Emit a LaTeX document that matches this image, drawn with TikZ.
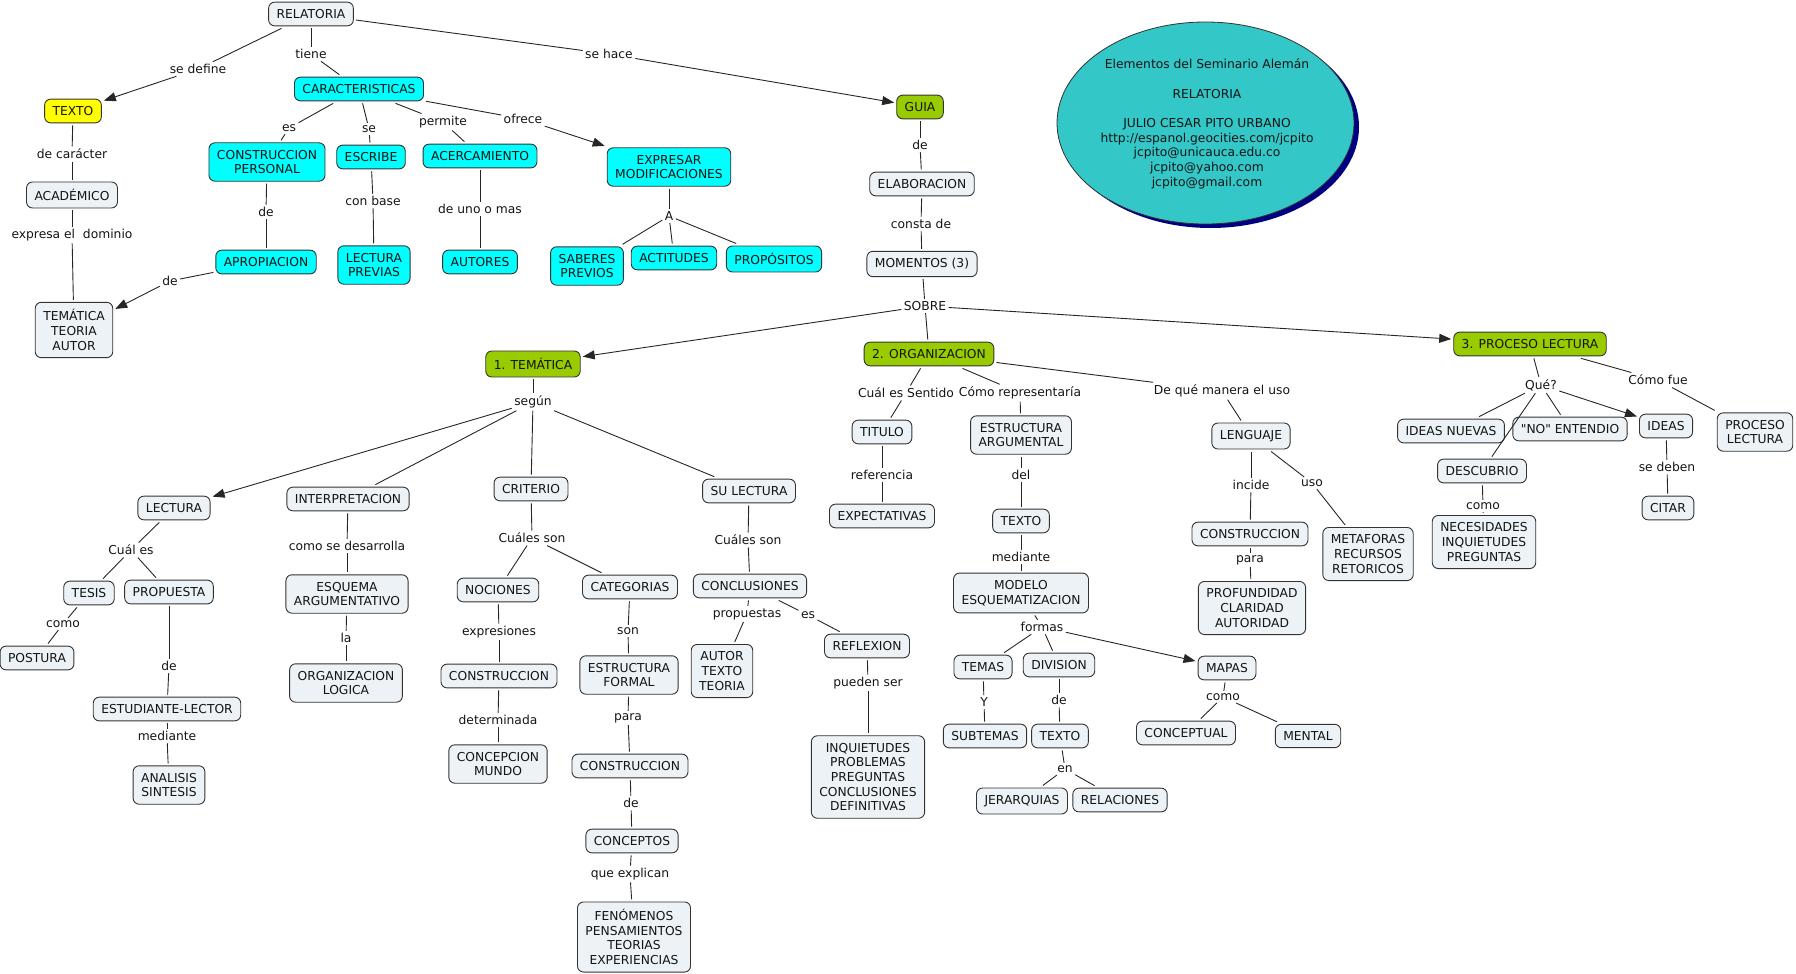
\documentclass[tikz,border=0pt]{standalone}
\usepackage{fontspec}
\setmainfont{DejaVu Sans}
\font\rawq="DejaVu Sans" at 12.3pt
\newcommand{\dq}{{\rawq "}}
\usetikzlibrary{arrows.meta,shapes.geometric}
\definecolor{boxgray}{RGB}{236,242,245}
\definecolor{mycyan}{RGB}{0,255,255}
\definecolor{myyellow}{RGB}{255,255,0}
\definecolor{mygreen}{RGB}{153,204,0}
\definecolor{elfill}{RGB}{51,199,199}
\definecolor{elshadow}{RGB}{0,0,128}
\definecolor{txt}{RGB}{20,20,20}
\begin{document}
\begin{tikzpicture}[x=1pt,y=-1pt,
  every node/.style={font=\fontsize{12.3}{14.7}\selectfont, text=txt},
  base/.style={draw=black!80, line width=0.9pt, rounded corners=6pt, align=center, inner xsep=8pt, inner ysep=7.2pt, outer sep=2.5pt},
  gbox/.style={base, fill=boxgray},
  cbox/.style={base, fill=mycyan},
  ybox/.style={base, fill=myyellow},
  grbox/.style={base, fill=mygreen},
  lab/.style={inner sep=1.5pt, outer sep=1pt},
  conn/.style={draw=black!85, line width=0.9pt},
  arr/.style={conn, -{Triangle[length=12pt,width=9pt]}}
]
\useasboundingbox (0,0) rectangle (1796,974);

% info ellipse
\fill[elshadow] (1210.5,127) ellipse [x radius=148.5pt, y radius=101pt];
\node[ellipse, draw=black!80, fill=elfill, line width=0.8pt, minimum width=297pt, minimum height=202pt, inner sep=0pt] (info) at (1205.5,123) {};
\node[align=center, inner sep=0pt] (infotext) at (1207,124) {Elementos del Seminario Alemán\\[14.6pt]RELATORIA\\[14.6pt]JULIO CESAR PITO URBANO\\http://espanol.geocities.com/jcpito\\jcpito@unicauca.edu.co\\jcpito@yahoo.com\\jcpito@gmail.com};

% concept nodes
\node[gbox] (relatoria) at (311,14) {RELATORIA};
\node[ybox] (texto1) at (73,111) {TEXTO};
\node[cbox] (caract) at (359,89) {CARACTERISTICAS};
\node[grbox] (guia) at (920,107) {GUIA};
\node[cbox] (conspers) at (267,162) {CONSTRUCCION\\PERSONAL};
\node[cbox] (escribe) at (371,157) {ESCRIBE};
\node[cbox] (acerc) at (480,156) {ACERCAMIENTO};
\node[cbox] (expresar) at (669,167) {EXPRESAR\\MODIFICACIONES};
\node[gbox] (academico) at (72,195) {ACADÉMICO};
\node[cbox] (apropiacion) at (266,262) {APROPIACION};
\node[cbox] (lecturap) at (374,265) {LECTURA\\PREVIAS};
\node[cbox] (autores) at (480,262) {AUTORES};
\node[cbox] (saberes) at (587,266) {SABERES\\PREVIOS};
\node[cbox] (actitudes) at (674,258) {ACTITUDES};
\node[cbox] (propositos) at (774,259) {PROPÓSITOS};
\node[gbox] (tematica3) at (74,330) {TEMÁTICA\\TEORIA\\AUTOR};
\node[gbox] (elab) at (922,184) {ELABORACION};
\node[gbox] (momentos) at (922,264) {MOMENTOS (3)};

\node[grbox] (tem1) at (533,364) {1. TEMÁTICA};
\node[grbox] (org2) at (929,354) {2. ORGANIZACION};
\node[grbox] (proc3) at (1530,344) {3. PROCESO LECTURA};

\node[gbox] (lectura) at (174,508) {LECTURA};
\node[gbox] (interp) at (348,499) {INTERPRETACION};
\node[gbox] (tesis) at (89,593) {TESIS};
\node[gbox] (propuesta) at (169,592) {PROPUESTA};
\node[gbox] (postura) at (37,658) {POSTURA};
\node[gbox] (estudiante) at (167,709) {ESTUDIANTE-LECTOR};
\node[gbox] (analisis) at (169,785) {ANALISIS\\SINTESIS};
\node[gbox] (esquema) at (347,594) {ESQUEMA\\ARGUMENTATIVO};
\node[gbox] (orglogica) at (346,683) {ORGANIZACION\\LOGICA};

\node[gbox] (criterio) at (531,489) {CRITERIO};
\node[gbox] (sulectura) at (749,491) {SU LECTURA};
\node[gbox] (nociones) at (498,590) {NOCIONES};
\node[gbox] (categorias) at (630,587) {CATEGORIAS};
\node[gbox] (conclusiones) at (750,586) {CONCLUSIONES};
\node[gbox] (construccion1) at (499,676) {CONSTRUCCION};
\node[gbox] (concepcion) at (498,764) {CONCEPCION\\MUNDO};
\node[gbox] (estructuraf) at (629,675) {ESTRUCTURA\\FORMAL};
\node[gbox] (construccion2) at (630,766) {CONSTRUCCION};
\node[gbox] (conceptos) at (632,841) {CONCEPTOS};
\node[gbox] (fenomenos) at (634,937) {FENÓMENOS\\PENSAMIENTOS\\TEORIAS\\EXPERIENCIAS};
\node[gbox] (autortexto) at (722,671) {AUTOR\\TEXTO\\TEORIA};
\node[gbox] (reflexion) at (867,646) {REFLEXION};
\node[gbox] (inquietudes) at (868,777) {INQUIETUDES\\PROBLEMAS\\PREGUNTAS\\CONCLUSIONES\\DEFINITIVAS};

\node[gbox] (titulo) at (882,432) {TITULO};
\node[gbox] (expectativas) at (882,516) {EXPECTATIVAS};
\node[gbox] (estructuraa) at (1021,435) {ESTRUCTURA\\ARGUMENTAL};
\node[gbox] (texto2) at (1021,521) {TEXTO};
\node[gbox] (modelo) at (1021,593) {MODELO\\ESQUEMATIZACION};
\node[gbox] (temas) at (983,667) {TEMAS};
\node[gbox] (division) at (1059,665) {DIVISION};
\node[gbox] (mapas) at (1227,668) {MAPAS};
\node[gbox] (subtemas) at (985,736) {SUBTEMAS};
\node[gbox] (texto3) at (1060,736) {TEXTO};
\node[gbox] (conceptual) at (1186,733) {CONCEPTUAL};
\node[gbox] (mental) at (1308,736) {MENTAL};
\node[gbox] (jerarquias) at (1022,801) {JERARQUIAS};
\node[gbox] (relaciones) at (1120,800) {RELACIONES};
\node[gbox] (lenguaje) at (1251,436) {LENGUAJE};
\node[gbox] (construccion3) at (1250,534) {CONSTRUCCION};
\node[gbox] (profundidad) at (1252,608) {PROFUNDIDAD\\CLARIDAD\\AUTORIDAD};
\node[gbox] (metaforas) at (1368,554) {METAFORAS\\RECURSOS\\RETORICOS};

\node[gbox] (ideasnuevas) at (1451,431) {IDEAS NUEVAS};
\node[gbox] (noentendio) at (1570,429) {\dq NO\dq{} ENTENDIO};
\node[gbox] (ideas) at (1666,426) {IDEAS};
\node[gbox] (procesol) at (1755,432) {PROCESO\\LECTURA};
\node[gbox] (descubrio) at (1482,471) {DESCUBRIO};
\node[gbox] (necesidades) at (1484,542) {NECESIDADES\\INQUIETUDES\\PREGUNTAS};
\node[gbox] (citar) at (1668,508) {CITAR};

% linking phrases
\node[lab] (l1) at (198,69) {se define};
\node[lab] (l2) at (311,54) {tiene};
\node[lab] (l3) at (609,54) {se hace};
\node[lab] (l4) at (289,128) {es};
\node[lab] (l5) at (369,129) {se};
\node[lab] (l6) at (443,122) {permite};
\node[lab] (l7) at (523,119) {ofrece};
\node[lab] (l8) at (72,154) {de carácter};
\node[lab] (l9) at (72,235) {expresa el\ \ dominio};
\node[lab] (l10) at (266,212) {de};
\node[lab] (l11) at (373,201) {con base};
\node[lab] (l12) at (480,209) {de uno o mas};
\node[lab] (l13) at (669,216) {A};
\node[lab] (l14) at (170,281) {de};
\node[lab] (l15) at (920,145) {de};
\node[lab] (l16) at (921,224) {consta de};
\node[lab] (l17) at (925,306) {SOBRE};
\node[lab] (l18) at (533,402) {según};
\node[lab] (l19) at (131,550) {Cuál es};
\node[lab] (l20) at (63,624) {como};
\node[lab] (l21) at (169,666) {de};
\node[lab] (l22) at (167,736) {mediante};
\node[lab] (l23) at (347,546) {como se desarrolla};
\node[lab] (l24) at (346,638) {la};
\node[lab] (l25) at (532,538) {Cuáles son};
\node[lab] (l26) at (499,632) {expresiones};
\node[lab] (l27) at (498,720) {determinada};
\node[lab] (l28) at (628,631) {son};
\node[lab] (l29) at (628,718) {para};
\node[lab] (l30) at (631,803) {de};
\node[lab] (l31) at (630,874) {que explican};
\node[lab] (l32) at (748,540) {Cuáles son};
\node[lab] (l33) at (747,614) {propuestas};
\node[lab] (l34) at (808,615) {es};
\node[lab] (l35) at (868,683) {pueden ser};
\node[lab] (l36) at (906,393) {Cuál es Sentido};
\node[lab] (l37) at (1020,393) {Cómo representaría};
\node[lab] (l38) at (1222,391) {De qué manera el uso};
\node[lab] (l39) at (882,475) {referencia};
\node[lab] (l40) at (1021,475) {del};
\node[lab] (l41) at (1021,557) {mediante};
\node[lab] (l42) at (1042,627) {formas};
\node[lab] (l43) at (984,702) {Y};
\node[lab] (l44) at (1059,700) {de};
\node[lab] (l45) at (1065,769) {en};
\node[lab] (l46) at (1223,697) {como};
\node[lab] (l47) at (1251,485) {incide};
\node[lab] (l48) at (1312,483) {uso};
\node[lab] (l49) at (1250,560) {para};
\node[lab] (l50) at (1541,385) {Qué?};
\node[lab] (l51) at (1658,380) {Cómo fue};
\node[lab] (l52) at (1483,506) {como};
\node[lab] (l53) at (1667,467) {se deben};

% connectors
\draw[conn] (relatoria) -- (l1); \draw[arr] (l1) -- (texto1);
\draw[conn] (relatoria) -- (l2); \draw[conn] (l2) -- (caract);
\draw[conn] (relatoria) -- (l3); \draw[arr] (l3) -- (guia);
\draw[conn] (caract) -- (l4); \draw[conn] (l4) -- (conspers);
\draw[conn] (caract) -- (l5); \draw[conn] (l5) -- (escribe);
\draw[conn] (caract) -- (l6); \draw[conn] (l6) -- (acerc);
\draw[conn] (caract) -- (l7); \draw[arr] (l7) -- (expresar);
\draw[conn] (texto1) -- (l8); \draw[conn] (l8) -- (academico);
\draw[conn] (academico) -- (l9); \draw[conn] (l9) -- (tematica3);
\draw[conn] (conspers) -- (l10); \draw[conn] (l10) -- (apropiacion);
\draw[conn] (escribe) -- (l11); \draw[conn] (l11) -- (lecturap);
\draw[conn] (acerc) -- (l12); \draw[conn] (l12) -- (autores);
\draw[conn] (expresar) -- (l13);
\draw[conn] (l13) -- (saberes); \draw[conn] (l13) -- (actitudes); \draw[conn] (l13) -- (propositos);
\draw[conn] (apropiacion) -- (l14); \draw[arr] (l14) -- (tematica3);
\draw[conn] (guia) -- (l15); \draw[conn] (l15) -- (elab);
\draw[conn] (elab) -- (l16); \draw[conn] (l16) -- (momentos);
\draw[conn] (momentos) -- (l17);
\draw[arr] (l17) -- (tem1); \draw[conn] (l17) -- (org2); \draw[arr] (l17) -- (proc3);
\draw[conn] (tem1) -- (l18);
\draw[arr] (l18) -- (lectura); \draw[conn] (l18) -- (interp);
\draw[conn] (l18) -- (criterio); \draw[conn] (l18) -- (sulectura);
\draw[conn] (lectura) -- (l19); \draw[conn] (l19) -- (tesis); \draw[conn] (l19) -- (propuesta);
\draw[conn] (tesis) -- (l20); \draw[conn] (l20) -- (postura);
\draw[conn] (propuesta) -- (l21); \draw[conn] (l21) -- (estudiante);
\draw[conn] (estudiante) -- (l22); \draw[conn] (l22) -- (analisis);
\draw[conn] (interp) -- (l23); \draw[conn] (l23) -- (esquema);
\draw[conn] (esquema) -- (l24); \draw[conn] (l24) -- (orglogica);
\draw[conn] (criterio) -- (l25); \draw[conn] (l25) -- (nociones); \draw[conn] (l25) -- (categorias);
\draw[conn] (nociones) -- (l26); \draw[conn] (l26) -- (construccion1);
\draw[conn] (construccion1) -- (l27); \draw[conn] (l27) -- (concepcion);
\draw[conn] (categorias) -- (l28); \draw[conn] (l28) -- (estructuraf);
\draw[conn] (estructuraf) -- (l29); \draw[conn] (l29) -- (construccion2);
\draw[conn] (construccion2) -- (l30); \draw[conn] (l30) -- (conceptos);
\draw[conn] (conceptos) -- (l31); \draw[conn] (l31) -- (fenomenos);
\draw[conn] (sulectura) -- (l32); \draw[conn] (l32) -- (conclusiones);
\draw[conn] (conclusiones) -- (l33); \draw[conn] (l33) -- (autortexto);
\draw[conn] (conclusiones) -- (l34); \draw[conn] (l34) -- (reflexion);
\draw[conn] (reflexion) -- (l35); \draw[conn] (l35) -- (inquietudes);
\draw[conn] (org2) -- (l36); \draw[conn] (l36) -- (titulo);
\draw[conn] (org2) -- (l37); \draw[conn] (l37) -- (estructuraa);
\draw[conn] (org2) -- (l38); \draw[conn] (l38) -- (lenguaje);
\draw[conn] (titulo) -- (l39); \draw[conn] (l39) -- (expectativas);
\draw[conn] (estructuraa) -- (l40); \draw[conn] (l40) -- (texto2);
\draw[conn] (texto2) -- (l41); \draw[conn] (l41) -- (modelo);
\draw[conn] (modelo) -- (l42);
\draw[conn] (l42) -- (temas); \draw[conn] (l42) -- (division); \draw[arr] (l42) -- (mapas);
\draw[conn] (temas) -- (l43); \draw[conn] (l43) -- (subtemas);
\draw[conn] (division) -- (l44); \draw[conn] (l44) -- (texto3);
\draw[conn] (texto3) -- (l45); \draw[conn] (l45) -- (jerarquias); \draw[conn] (l45) -- (relaciones);
\draw[conn] (mapas) -- (l46); \draw[conn] (l46) -- (conceptual); \draw[conn] (l46) -- (mental);
\draw[conn] (lenguaje) -- (l47); \draw[conn] (l47) -- (construccion3);
\draw[conn] (lenguaje) -- (l48); \draw[conn] (l48) -- (metaforas);
\draw[conn] (construccion3) -- (l49); \draw[conn] (l49) -- (profundidad);
\draw[conn] (proc3) -- (l50);
\draw[conn] (l50) -- (ideasnuevas); \draw[conn] (l50) -- (noentendio);
\draw[conn] (l50) -- (descubrio); \draw[arr] (l50) -- (ideas);
\draw[conn] (proc3) -- (l51); \draw[conn] (l51) -- (procesol);
\draw[conn] (descubrio) -- (l52); \draw[conn] (l52) -- (necesidades);
\draw[conn] (ideas) -- (l53); \draw[conn] (l53) -- (citar);
\end{tikzpicture}
\end{document}
